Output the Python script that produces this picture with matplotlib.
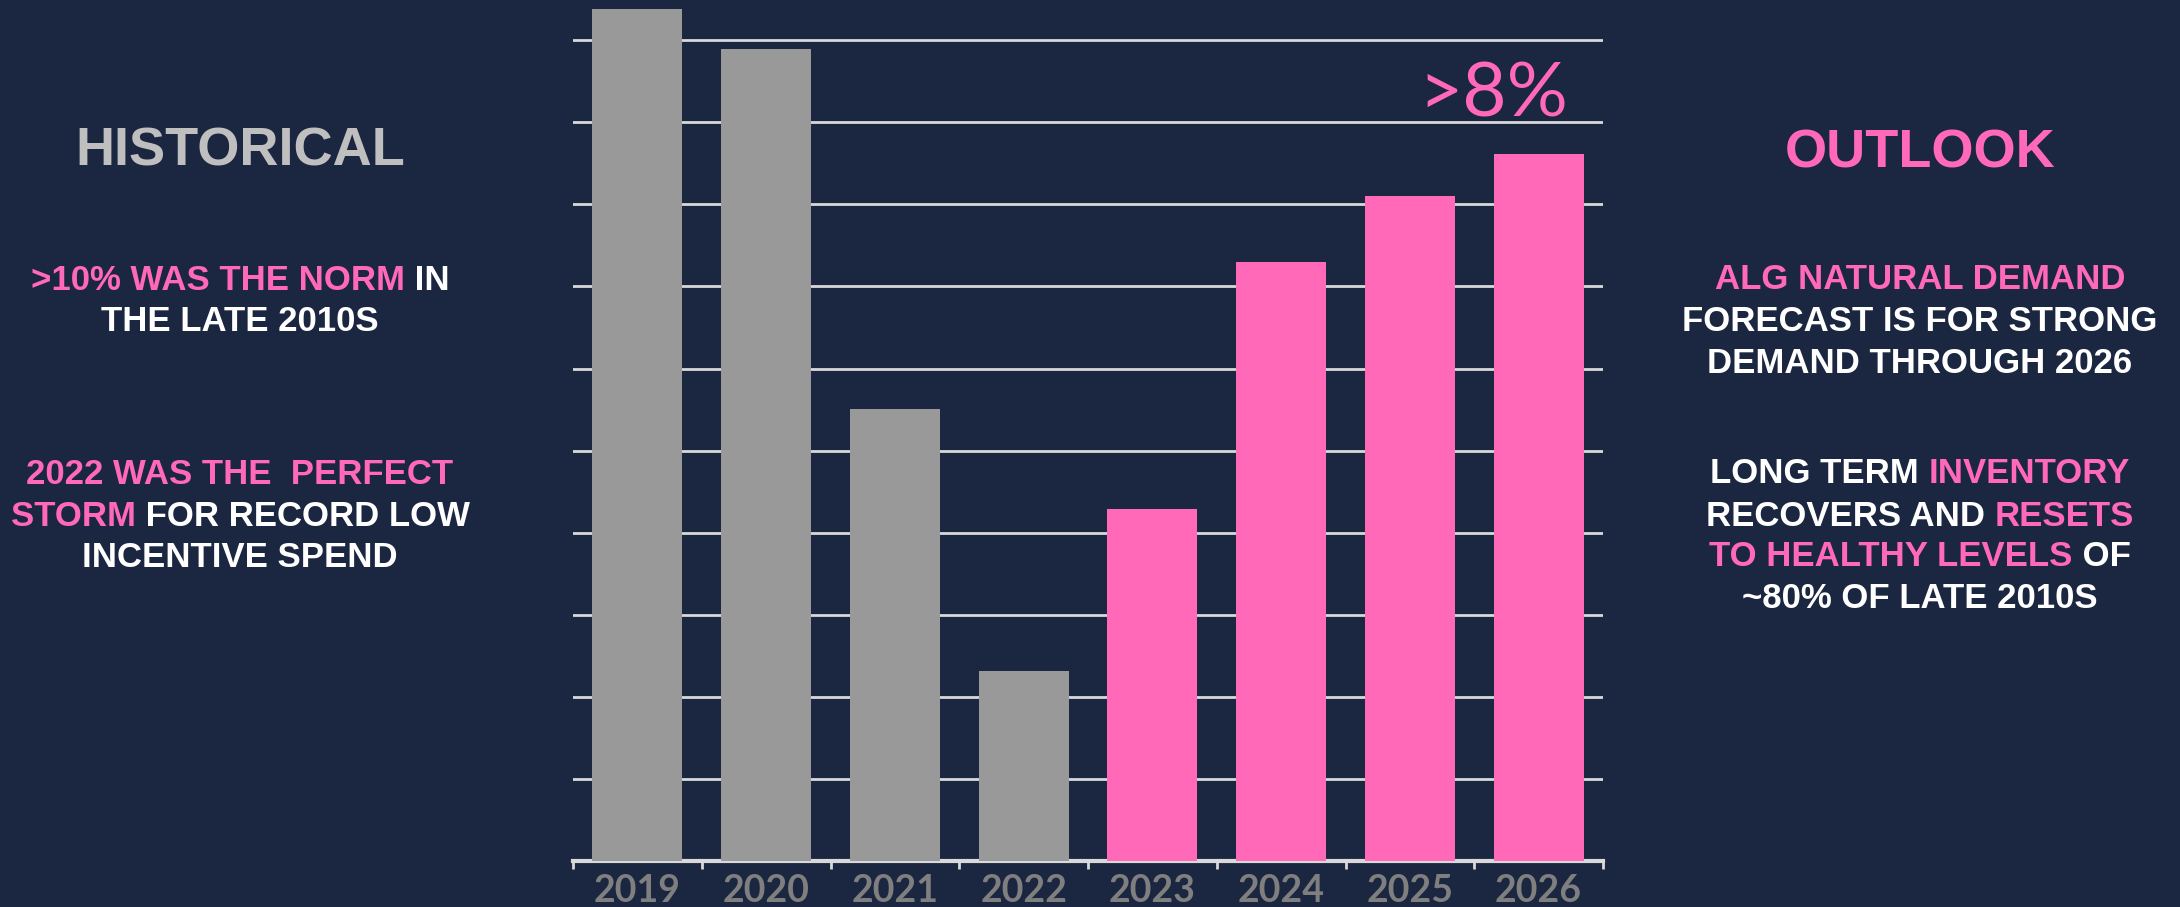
import matplotlib.pyplot as plt
import numpy as np

years = ["2019", "2020", "2021", "2022", "2023", "2024", "2025", "2026"]
values = [10.38, 9.89, 5.51, 2.31, 4.29, 7.30, 8.10, 8.61]
is_outlook = [False, False, False, False, True, True, True, True]

left_lines = [
    [(">10% WAS THE NORM", "pink"), (" IN", "white")],
    [("THE LATE 2010S", "white")],
    [("2022 WAS THE  PERFECT", "pink")],
    [("STORM", "pink"), (" FOR RECORD LOW", "white")],
    [("INCENTIVE SPEND", "white")],
]
right_lines = [
    [("ALG NATURAL DEMAND", "pink")],
    [("FORECAST IS FOR STRONG", "white")],
    [("DEMAND THROUGH 2026", "white")],
    [("LONG TERM ", "white"), ("INVENTORY", "pink")],
    [("RECOVERS AND ", "white"), ("RESETS", "pink")],
    [("TO HEALTHY LEVELS", "pink"), (" OF", "white")],
    [("~80% OF LATE 2010S", "white")],
]

BG = "#1b2640"
PINK = "#ff69b8"
GREY = "#999999"
GRID = "#d9d9d9"
palette = {"pink": PINK, "white": "#ffffff"}

W, H = 2180, 907
fig = plt.figure(figsize=(W / 100, H / 100), dpi=100, facecolor=BG)
ax = fig.add_axes([573 / W, 46 / H, 1030 / W, 861 / H])
ax.set_facecolor(BG)

x = np.arange(len(years))
colors = [PINK if f else GREY for f in is_outlook]
ax.bar(x, values, width=0.70, color=colors, zorder=3)
ax.set_xlim(-0.5, len(years) - 0.5)
ax.set_ylim(0, 10.49)

ax.set_yticks(range(1, 11))
ax.set_axisbelow(True)
ax.yaxis.grid(True, color=GRID, lw=2)
ax.tick_params(axis="y", length=0, labelleft=False)
for s in ["left", "right", "top"]:
    ax.spines[s].set_visible(False)
ax.spines["bottom"].set_color(GRID)
ax.spines["bottom"].set_linewidth(3)

ax.set_xticks(x, years)
ax.set_xticks(np.arange(-0.5, len(years), 1), minor=True)
ax.tick_params(axis="x", which="major", length=0, pad=9, labelsize=27,
               labelcolor="#7f7f7f")
ax.tick_params(axis="x", which="minor", length=6, width=2, color=GRID,
               direction="out")
for lab in ax.get_xticklabels():
    lab.set_fontfamily("Lato")
    lab.set_fontweight("bold")

ax.text(6.65, 9.07, ">8%", ha="center", va="baseline", fontsize=55,
        color=PINK, family="Lato")

renderer = fig.canvas.get_renderer()
FONT = "Liberation Sans"


def text_w(s, size):
    t = fig.text(0, 0, s + "|", fontsize=size, fontweight="bold", family=FONT)
    w1 = t.get_window_extent(renderer).width
    t.set_text("|")
    w2 = t.get_window_extent(renderer).width
    t.remove()
    return w1 - w2


def colored_line(cx, base_y, parts, size):
    full = "".join(p for p, c in parts)
    x0 = cx - text_w(full, size) / 2
    prefix = ""
    for p, c in parts:
        xp = x0 + (text_w(prefix, size) if prefix else 0)
        fig.text(xp / W, 1 - base_y / H, p, fontsize=size, fontweight="bold",
                 family=FONT, color=palette[c], ha="left", va="baseline")
        prefix += p


fig.text(240 / W, 1 - 165 / H, "HISTORICAL", fontsize=39, fontweight="bold",
         family=FONT, color="#bfbfbf", ha="center", va="baseline")
fig.text(1920 / W, 1 - 167 / H, "OUTLOOK", fontsize=39, fontweight="bold",
         family=FONT, color=PINK, ha="center", va="baseline")

left_y = [290, 331, 484, 526, 567]
for parts, y in zip(left_lines, left_y):
    colored_line(240, y, parts, 25)

right_y = [289, 331, 373, 483, 526, 566, 608]
for parts, y in zip(right_lines, right_y):
    colored_line(1920, y, parts, 25)

fig.savefig("out.png", dpi=100, facecolor=BG)
